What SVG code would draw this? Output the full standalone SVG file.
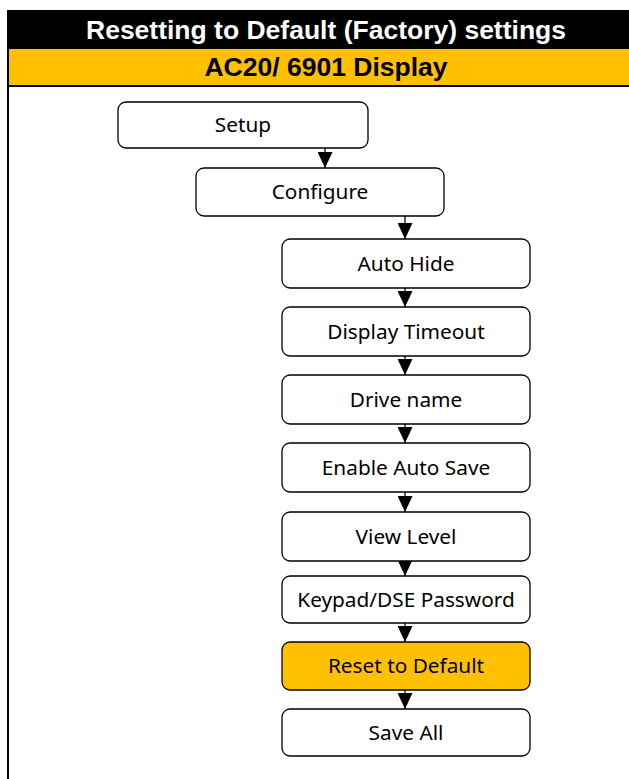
<svg xmlns="http://www.w3.org/2000/svg" width="629" height="779" viewBox="0 0 629 779">
<style>
.box{fill:#fff;stroke:#000;stroke-width:1.3}
.hl{fill:#FFC000}
.lbl{font-family:"Noto Sans","Open Sans",sans-serif;font-size:20.8px;fill:#000;text-anchor:middle}
.hdr{font-family:"Liberation Sans",Arial,sans-serif;font-weight:bold;font-size:26.5px;text-anchor:middle}
.con{stroke:#000;stroke-width:1.3;fill:none}
</style>
<defs>
<marker id="ah" markerWidth="16" markerHeight="15" refX="16" refY="7.5" orient="auto" markerUnits="userSpaceOnUse">
<path d="M0,0 L16,7.5 L0,15 Z" fill="#000"/>
</marker>
</defs>
<rect x="0" y="0" width="629" height="779" fill="#fff"/>
<g id="header">
<rect x="7" y="10" width="622" height="39" fill="#000"/>
<text class="hdr" x="326" y="39" fill="#fff">Resetting to Default (Factory) settings</text>
<rect x="7" y="49" width="622" height="36" fill="#FFC000"/>
<rect x="7" y="85" width="622" height="2" fill="#000"/>
<text class="hdr" x="326" y="76" fill="#000">AC20/ 6901 Display</text>
<rect x="7" y="49" width="2" height="730" fill="#000"/>
</g>
<g id="connectors">
<line class="con" x1="325" y1="148" x2="325" y2="168" marker-end="url(#ah)"/>
<line class="con" x1="405" y1="216" x2="405" y2="239" marker-end="url(#ah)"/>
<line class="con" x1="405" y1="288" x2="405" y2="307" marker-end="url(#ah)"/>
<line class="con" x1="405" y1="356" x2="405" y2="375" marker-end="url(#ah)"/>
<line class="con" x1="405" y1="424" x2="405" y2="443" marker-end="url(#ah)"/>
<line class="con" x1="405" y1="492" x2="405" y2="512" marker-end="url(#ah)"/>
<line class="con" x1="405" y1="561" x2="405" y2="576" marker-end="url(#ah)"/>
<line class="con" x1="405" y1="623" x2="405" y2="642" marker-end="url(#ah)"/>
<line class="con" x1="405" y1="690" x2="405" y2="709" marker-end="url(#ah)"/>
</g>
<g id="n-setup"><rect class="box" x="118" y="102" width="250" height="46" rx="8"/><text class="lbl" x="243" y="132">Setup</text></g>
<g id="n-configure"><rect class="box" x="196" y="168" width="248" height="48" rx="8"/><text class="lbl" x="320" y="199">Configure</text></g>
<g id="n-autohide"><rect class="box" x="282" y="239" width="248" height="49" rx="8"/><text class="lbl" x="406" y="271">Auto Hide</text></g>
<g id="n-timeout"><rect class="box" x="282" y="307" width="248" height="49" rx="8"/><text class="lbl" x="406" y="339">Display Timeout</text></g>
<g id="n-drivename"><rect class="box" x="282" y="375" width="248" height="49" rx="8"/><text class="lbl" x="406" y="407">Drive name</text></g>
<g id="n-autosave"><rect class="box" x="282" y="443" width="248" height="49" rx="8"/><text class="lbl" x="406" y="475">Enable Auto Save</text></g>
<g id="n-viewlevel"><rect class="box" x="282" y="512" width="248" height="49" rx="8"/><text class="lbl" x="406" y="544">View Level</text></g>
<g id="n-password"><rect class="box" x="282" y="576" width="248" height="47" rx="8"/><text class="lbl" x="406" y="607">Keypad/DSE Password</text></g>
<g id="n-reset"><rect class="box hl" x="282" y="642" width="248" height="48" rx="8"/><text class="lbl" x="406" y="673">Reset to Default</text></g>
<g id="n-saveall"><rect class="box" x="282" y="709" width="248" height="47" rx="8"/><text class="lbl" x="406" y="740">Save All</text></g>
</svg>
